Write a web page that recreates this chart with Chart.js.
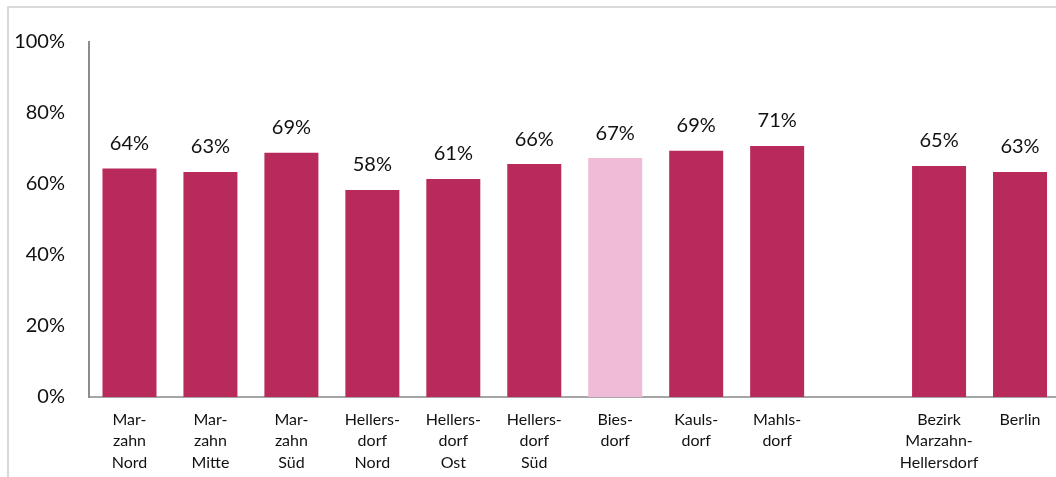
<!DOCTYPE html>
<html>
<head>
<meta charset="utf-8">
<script src="https://cdn.jsdelivr.net/npm/chart.js@4/dist/chart.umd.min.js"></script>
<style>
  html, body { margin: 0; padding: 0; background: #fff; overflow: hidden; width: 1056px; height: 477px; }
  #wrap { position: absolute; left: 0; top: 0; width: 1062px; height: 477px; }
  #frame { position: absolute; left: 7px; top: 6px; width: 1100px; height: 500px;
           border-left: 2px solid #d9d9d9; border-top: 2px solid #d9d9d9; pointer-events: none; }
</style>
</head>
<body>
<div id="frame"></div>
<div id="wrap"><canvas id="c" width="1062" height="477"></canvas></div>
<script>
// ---- data ----
const categories = [
  ["Mar-", "zahn", "Nord"],
  ["Mar-", "zahn", "Mitte"],
  ["Mar-", "zahn", "Süd"],
  ["Hellers-", "dorf", "Nord"],
  ["Hellers-", "dorf", "Ost"],
  ["Hellers-", "dorf", "Süd"],
  ["Bies-", "dorf"],
  ["Kauls-", "dorf"],
  ["Mahls-", "dorf"],
  "",
  ["Bezirk", "Marzahn-", "Hellersdorf"],
  ["Berlin"]
];
const values = [64.4, 63.4, 68.8, 58.3, 61.4, 65.6, 67.3, 69.4, 70.7, null, 65.1, 63.4];
const highlightIndex = 6;
const yTicks = [0, 20, 40, 60, 80, 100];

const mainColor = '#B92A5C';
const lightColor = '#F0BBD6';

const barLabels = {
  id: 'barLabels',
  afterDatasetsDraw(chart) {
    const ctx = chart.ctx;
    const meta = chart.getDatasetMeta(0);
    ctx.save();
    ctx.font = '20px Lato';
    ctx.fillStyle = '#111';
    ctx.textAlign = 'center';
    ctx.textBaseline = 'middle';
    meta.data.forEach((bar, i) => {
      const v = values[i];
      if (v === null || v === undefined) return;
      ctx.fillText(Math.round(v) + '%', bar.x, bar.y - 25);
    });
    ctx.restore();
  }
};

new Chart(document.getElementById('c'), {
  type: 'bar',
  data: {
    labels: categories,
    datasets: [{
      data: values,
      backgroundColor: values.map((v, i) => i === highlightIndex ? lightColor : mainColor),
      categoryPercentage: 1,
      barPercentage: 0.667
    }]
  },
  options: {
    responsive: false,
    animation: false,
    layout: { padding: { left: 0, right: 1.5, top: 42, bottom: 0 } },
    plugins: { legend: { display: false }, tooltip: { enabled: false } },
    scales: {
      x: {
        offset: true,
        grid: { display: false, drawTicks: false },
        border: { display: true, color: '#a6a6a6', width: 2 },
        ticks: {
          autoSkip: false, maxRotation: 0, minRotation: 0,
          color: '#111', font: { family: 'Lato', size: 16, lineHeight: 1.34 },
          padding: 12
        },
        afterFit(scale) { scale.height = 80; }
      },
      y: {
        min: 0, max: 100,
        afterBuildTicks(scale) { scale.ticks = yTicks.map(v => ({ value: v })); },
        grid: { display: false, drawTicks: false },
        border: { display: true, color: '#8c8c8c', width: 2 },
        ticks: {
          color: '#111', font: { family: 'Lato', size: 20 },
          padding: 24,
          callback: v => v + '%'
        },
        afterFit(scale) { scale.width = 89; }
      }
    }
  },
  plugins: [barLabels]
});
</script>
</body>
</html>
